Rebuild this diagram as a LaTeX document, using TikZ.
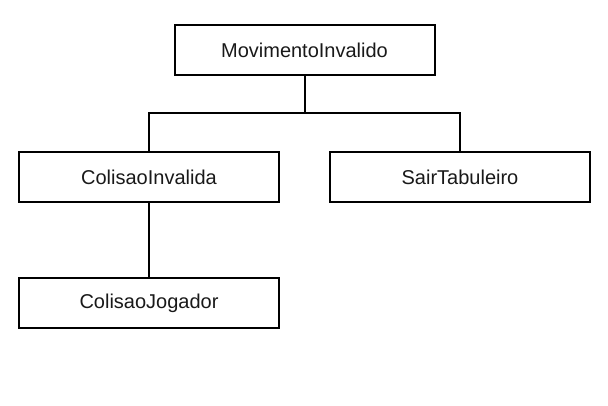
\documentclass[tikz,border=0pt]{standalone}
\usepackage{fontspec}
\setmainfont{Liberation Sans}
\begin{document}
\begin{tikzpicture}[x=1pt,y=-1pt,
  cls/.style={draw=black,line width=2pt,minimum width=260pt,minimum height=50pt,inner sep=0pt,font=\fontsize{20}{24}\selectfont,text=black!90},
  conn/.style={draw=black,line width=2pt}]
\useasboundingbox (0,0) rectangle (608,406);
\node[cls] (mi) at (304.5,50.5) {MovimentoInvalido};
\node[cls] (ci) at (149,177) {ColisaoInvalida};
\node[cls] (st) at (460,177) {SairTabuleiro};
\node[cls] (cj) at (149,303) {ColisaoJogador};
\coordinate (j) at (304.5,113);
\draw[conn] (mi.south) -- (j);
\draw[conn] (ci.north) |- (j) -| (st.north);
\draw[conn] (ci.south) -- (cj.north);
\end{tikzpicture}
\end{document}
